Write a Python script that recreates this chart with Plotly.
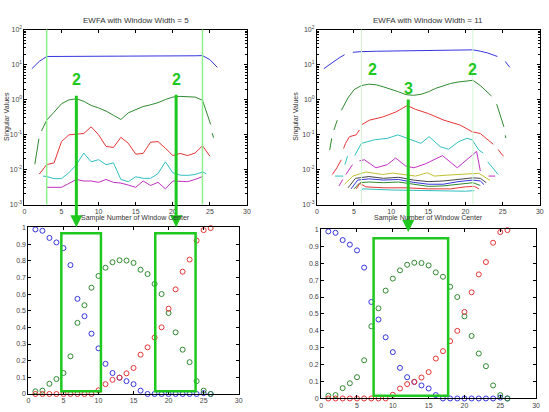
import plotly.graph_objects as go

# ---------------- data: EWFA window width 5 (top-left) ----------------
w5_sv1_x = [1, 2, 3, 4, 5, 6, 7, 8, 9, 10, 11, 12, 13, 14, 15, 16, 17, 18, 19, 20, 21, 22, 23, 24, 25, 26]
w5_sv1_y = [7.6, 12.3, 17.0, 17.0, 17.0, 17.0, 17.1, 17.1, 17.1, 17.2, 17.2, 17.2, 17.2, 17.3, 17.3, 17.3,
            17.4, 17.4, 17.5, 17.5, 17.6, 17.7, 17.8, 18.0, 13.8, 8.3]
w5_sv2_x = [1.4, 1.95, None, 2.3, 3, 4, 5, 6, 7, 8, 9, 10, 11, 12, 13, 14, 15, 16, 17, 18, 19, 20, 21, 22,
            23, 24, 25.1, None, 25.3, 25.5]
w5_sv2_y = [0.0141, 0.0759, None, 0.126, 0.257, 0.437, 0.759, 0.977, 1.047, 0.891, 0.676, 0.575, 0.468, 0.355,
            0.269, 0.417, 0.525, 0.631, 0.708, 0.813, 1.0, 1.175, 1.23, 1.23, 1.175, 0.955, 0.195, None, 0.110, 0.081]
w5_sv3_x = [2, 3, 4, 5, 6, 7, 8, 9, 10, 11, 12, 13, 14, 15, 16, 17, 18, 19, 20, 21, 22, 23, 24, 25]
w5_sv3_y = [0.0074, 0.0138, 0.0155, 0.063, 0.098, 0.1, 0.107, 0.166, 0.098, 0.0457, 0.0427, 0.0832, 0.0562,
            0.0275, 0.0288, 0.0603, 0.063, 0.0407, 0.0251, 0.0288, 0.0251, 0.0295, 0.0479, 0.024]
w5_sv4_x = [2.5, 3, 4, 5, 6, 7, 8, 9, 10, 11, 12, 13, 14, 15, 16, 17, 18, 19, 20, 21, 22, 23, 24, 24.5]
w5_sv4_y = [0.0065, 0.0063, 0.0055, 0.0055, 0.0081, 0.0138, 0.0295, 0.0166, 0.0191, 0.0138, 0.0155, 0.0052,
            0.0045, 0.0062, 0.0056, 0.0056, 0.0076, 0.0166, 0.0081, 0.0069, 0.0068, 0.0072, 0.0085, 0.0076]
w5_sv5_x = [3, 4, 5, 6, 7, 8, 9, 10, 11, 12, 13, 14, 15, 16, 17, 18, 19, 20, 21, 22, 23, 24]
w5_sv5_y = [0.0031, 0.0031, 0.0031, 0.004, 0.0052, 0.0047, 0.0047, 0.0043, 0.0052, 0.0043, 0.0041, 0.0036,
            0.0031, 0.0047, 0.0035, 0.0043, 0.0028, 0.0047, 0.0045, 0.0045, 0.0052, 0.0063]

# ---------------- data: EWFA window width 11 (top-right) ----------------
w11_x = [
    [0.93, 2, 3, 3.73, None, 4.85, 6, 8, 10, 12, 14, 16, 18, 20, 21, 22, 23, 24.3, None, 25.35, 25.97],
    [1.73, 2.0, None, 2.3, 2.75, None, 3.3, 3.8, 4.2, 5, 6, 7, 8, 9, 10, 11, 12, 13, 14, 15, 16, 17, 18, 19,
     20, 21, 22, 23, 23.5, None, 24.2, 25.17, None, 25.35, 25.45],
    [2.09, 2.7, 3.29, None, 3.6, 3.86, 4.4, 5.3, 5.73, None, 5.95, 7.07, 8.84, 10.6, 12.17, 13.27, 15.0, 17.1,
     19.3, 20.9, 22.0, 23.75, None, 24.4, 25.1],
    [2.45, 3.55, None, 3.78, 4.13, None, 5.1, 5.78, 6, 7.78, 9.55, 10.9, 12.2, 14, 15.1, 16.6, 17.7, 19.1, 20.2,
     20.9, 21.8, 22.4, None, 23.0, 24.4],
    [2.98, 3.5, None, 3.9, 4.3, 4.8, None, 5.73, 6.4, 7.95, 9.5, 10.6, 11.95, 13.05, 14.6, 16.9, 18.9, 21.5,
     22.0, None, 23.1, 24.0],
    [3.73, 4.85, 6.6, 8.84, 10.2, 11.95, 13.3, 14.87, 15.8, 17.5, 19.3, 21.8, 23.3],
    [4.2, 5.2, 7, 9, 11, 13, 15, 17, 19, 21, 22, 22.8],
    [4.6, 5.5, 7, 9, 11, 13, 15, 17, 19, 21, 22, 22.5],
    [5.0, 5.8, 7, 9, 11, 13, 15, 17, 19, 21, 22],
    [5.3, 5.8, 6.6, 9, 12, 15, 18, 20, 21.2, 21.8],
    [5.9, 6.2, 10, 15, 20, 21.2],
]
w11_y = [
    [7.6, 11.2, 15.5, 19.1, None, 22.4, 23.4, 24.0, 24.5, 25.1, 25.1, 25.7, 25.7, 26.3, 26.3, 24.0, 21.4, 17.0,
     None, 12.3, 8.3],
    [0.036, 0.078, None, 0.135, 0.257, None, 0.49, 0.79, 1.12, 1.91, 2.51, 2.75, 2.63, 2.29, 2.0, 1.66, 1.38,
     1.32, 1.41, 1.66, 2.09, 2.51, 2.88, 3.16, 3.39, 3.55, 2.51, 1.58, 1.26, None, 0.74, 0.166, None, 0.095, 0.079],
    [0.0072, 0.0112, 0.019, None, 0.04, 0.056, 0.087, 0.098, 0.135, None, 0.186, 0.257, 0.316, 0.437, 0.676,
     0.525, 0.398, 0.257, 0.186, 0.12, 0.107, 0.0525, None, 0.0372, 0.024],
    [0.0065, 0.0065, None, 0.0138, 0.024, None, 0.025, 0.05, 0.056, 0.071, 0.078, 0.098, 0.078, 0.056, 0.087,
     0.045, 0.038, 0.063, 0.078, 0.071, 0.036, 0.0295, None, 0.0166, 0.0072],
    [0.0034, 0.0052, None, 0.0072, 0.0100, 0.0138, None, 0.0178, 0.019, 0.0112, 0.0138, 0.0214, 0.0126, 0.0112,
     0.0145, 0.025, 0.0112, 0.0331, 0.0091, None, 0.0065, 0.0065],
    [0.0038, 0.0065, 0.0085, 0.0072, 0.0079, 0.0072, 0.0065, 0.0081, 0.0065, 0.0069, 0.0072, 0.0078, 0.0049],
    [0.003, 0.0056, 0.0063, 0.0056, 0.006, 0.005, 0.0045, 0.0047, 0.0052, 0.0058, 0.0056, 0.0042],
    [0.0028, 0.005, 0.0054, 0.005, 0.0052, 0.0043, 0.0038, 0.0038, 0.0045, 0.005, 0.0047, 0.0037],
    [0.0028, 0.0042, 0.0044, 0.0042, 0.0044, 0.0038, 0.0033, 0.0034, 0.0038, 0.0042, 0.0035],
    [0.0028, 0.004, 0.0032, 0.003, 0.003, 0.0028, 0.0028, 0.0032, 0.0033, 0.0028],
    [0.0025, 0.0028, 0.0026, 0.0025, 0.0024, 0.0025],
]

# ---------------- data: scatter (bottom panels) ----------------
sample = list(range(1, 27))
comp_blue = [0.988, 0.98, 0.937, 0.91, 0.876, 0.774, 0.571, 0.467, 0.362, 0.274, 0.181, 0.126, 0.098, 0.077,
             0.059, 0.02, 0.0, 0.0, 0.0, 0.0, 0.0, 0.0, 0.0, 0.0, 0.005, 0.0]
comp_green = [0.016, 0.02, 0.061, 0.09, 0.126, 0.226, 0.427, 0.533, 0.638, 0.709, 0.758, 0.791, 0.803, 0.801,
              0.787, 0.746, 0.72, 0.661, 0.6, 0.486, 0.37, 0.266, 0.191, 0.077, 0.02, 0.0]
comp_red = [0.0, 0.0, 0.0, 0.0, 0.0, 0.0, 0.0, 0.0, 0.0, 0.022, 0.059, 0.085, 0.098, 0.124, 0.156, 0.236, 0.28,
            0.339, 0.4, 0.512, 0.628, 0.734, 0.807, 0.921, 0.984, 0.996]

log_tickvals = [0.001, 0.01, 0.1, 1, 10, 100]
log_ticktext = ["10<sup>-3</sup>", "10<sup>-2</sup>", "10<sup>-1</sup>", "10<sup>0</sup>", "10<sup>1</sup>",
                "10<sup>2</sup>"]

# ---------------- styling ----------------
mat_colors = ["#3535e0", "#2f8a2f", "#e53535", "#2fc0c0", "#c030c0", "#c0c030", "#454545"]
GREEN = "#1ec81e"
FONT = "Liberation Sans, Arial, sans-serif"

fig = go.Figure()

w5 = [(w5_sv1_x, w5_sv1_y), (w5_sv2_x, w5_sv2_y), (w5_sv3_x, w5_sv3_y), (w5_sv4_x, w5_sv4_y),
      (w5_sv5_x, w5_sv5_y)]
for i, (xs, ys) in enumerate(w5):
    fig.add_trace(go.Scatter(x=xs, y=ys, mode="lines", line=dict(color=mat_colors[i % 7], width=1),
                             xaxis="x", yaxis="y", showlegend=False))
for i, (xs, ys) in enumerate(zip(w11_x, w11_y)):
    fig.add_trace(go.Scatter(x=xs, y=ys, mode="lines", line=dict(color=mat_colors[i % 7], width=1),
                             xaxis="x2", yaxis="y2", showlegend=False))
for xa, ya in (("x3", "y3"), ("x4", "y4")):
    for vals, col in ((comp_blue, mat_colors[0]), (comp_green, mat_colors[1]), (comp_red, mat_colors[2])):
        fig.add_trace(go.Scatter(x=sample, y=vals, mode="markers", cliponaxis=False,
                                 marker=dict(symbol="circle-open", size=5, color=col, line=dict(width=1, color=col)),
                                 xaxis=xa, yaxis=ya, showlegend=False))


def axis(domain, anchor, **kw):
    d = dict(domain=domain, anchor=anchor, showline=True, linecolor="black", linewidth=1, mirror="ticks",
             ticks="inside", ticklen=3, tickcolor="black", showgrid=False, zeroline=False,
             tickfont=dict(size=7, color="#444", family=FONT))
    d.update(kw)
    return d


minor_vals = [m * 10 ** e for e in range(-3, 2) for m in range(2, 10)]
logy = dict(type="log", range=[-3, 2], tickvals=log_tickvals, ticktext=log_ticktext,
            minor=dict(ticks="inside", ticklen=2, tickvals=minor_vals, tickcolor="black"))

fig.update_layout(
    width=549, height=412, margin=dict(l=0, r=0, t=0, b=0),
    paper_bgcolor="white", plot_bgcolor="white", font=dict(family=FONT),
    xaxis=axis([0.0413, 0.4512], "y", range=[0, 30], dtick=5),
    yaxis=axis([0.5049, 0.9369], "x", **logy),
    xaxis2=axis([0.5798, 0.9904], "y2", range=[0, 30], dtick=5),
    yaxis2=axis([0.5049, 0.9369], "x2", **logy),
    xaxis3=axis([0.0486, 0.4359], "y3", range=[0, 30], dtick=5),
    yaxis3=axis([0.0371, 0.4483], "x3", range=[0, 1], dtick=0.1),
    xaxis4=axis([0.5878, 0.9836], "y4", range=[0, 30], dtick=5),
    yaxis4=axis([0.0260, 0.4434], "x4", range=[0, 1], dtick=0.1),
)

shapes = []
# light green guide lines
for xv in (3, 24):
    shapes.append(dict(type="line", xref="x", yref="y domain", x0=xv, x1=xv, y0=0, y1=1,
                       line=dict(color="#8cf08c", width=1.5)))
for xv in (6, 21):
    shapes.append(dict(type="line", xref="x2", yref="y2 domain", x0=xv, x1=xv, y0=0, y1=1,
                       line=dict(color="#d2f5d2", width=1)))
# rectangles
for x0, x1 in ((4.7, 10.35), (18.1, 23.85)):
    shapes.append(dict(type="rect", xref="x3", yref="y3", x0=x0, x1=x1, y0=0.016, y1=0.965,
                       line=dict(color=GREEN, width=2.5)))
shapes.append(dict(type="rect", xref="x4", yref="y4", x0=7.32, x1=17.72, y0=0.016, y1=0.948,
                   line=dict(color=GREEN, width=2.5)))
fig.update_layout(shapes=shapes)

ann = []
# thick arrows from top to bottom panels (head y in paper, tail offset in pixels)
for xr, xv, top_px, tip_px in (("x", 7, 94, 227), ("x", 20.45, 93, 227), ("x2", 12.3, 98, 232)):
    ann.append(dict(xref=xr, yref="paper", x=xv, y=1 - tip_px / 412, text="", showarrow=True,
                    axref="pixel", ayref="pixel", ax=0, ay=-(tip_px - top_px), arrowhead=2, arrowsize=0.8,
                    arrowwidth=3, arrowcolor=GREEN, standoff=0))
# numbers
for xr, xv, py, t in (("x", 7, 77, "2"), ("x", 20.5, 77, "2"), ("x2", 7.5, 67, "2"), ("x2", 20.9, 67, "2"),
                      ("x2", 12.4, 86, "3")):
    ann.append(dict(xref=xr, yref="paper", x=xv, y=1 - py / 412, text="<b>%s</b>" % t, showarrow=False,
                    xanchor="center", yanchor="middle", font=dict(size=16, color=GREEN, family=FONT)))
# titles and labels
for cx, t in ((135, "EWFA with Window Width = 5"), (431, "EWFA with Window Width = 11")):
    ann.append(dict(xref="paper", yref="paper", x=cx / 549, y=1 - 17 / 412, text=t, showarrow=False,
                    xanchor="center", yanchor="middle", font=dict(size=8, color="#333", family=FONT)))
for cx in (135, 431):
    ann.append(dict(xref="paper", yref="paper", x=cx / 549, y=1 - 218 / 412, text="Sample Number of Window Center",
                    showarrow=False, xanchor="center", yanchor="middle",
                    font=dict(size=7, color="#333", family=FONT)))
for cx in (5, 297):
    ann.append(dict(xref="paper", yref="paper", x=cx / 549, y=1 - 114 / 412, text="Singular Values",
                    textangle=-90, showarrow=False, xanchor="center", yanchor="middle",
                    font=dict(size=7, color="#333", family=FONT)))
fig.update_layout(annotations=ann)

fig.write_html("out.html")
